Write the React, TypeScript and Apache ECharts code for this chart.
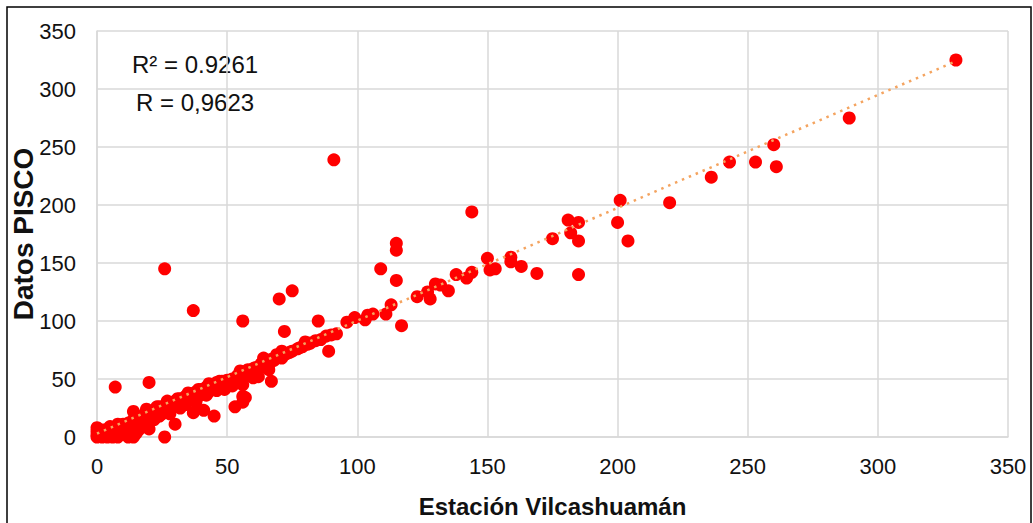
import React, { useEffect, useRef } from "react";
import * as echarts from "echarts";

// Estación Vilcashuamán (x) vs Datos PISCO (y)
const stationX: number[] = [
  0, 0, 0, 0, 1, 1, 2, 2, 3, 3, 4, 4, 5, 5, 6, 6, 7, 7, 8, 8, 9, 9, 10, 10, 11, 12, 12, 13, 14, 14, 14, 15, 16, 16, 17, 18, 18, 19, 20, 20,
  21, 22, 23, 24, 25, 26, 26, 27, 28, 29, 30, 30, 31, 32, 33, 34, 35, 36, 37, 37, 38, 39, 40, 41, 41, 42, 43, 44, 45, 45,
  46, 47, 48, 49, 50, 51, 52, 53, 53, 54, 55, 56, 56, 56, 56, 57, 58, 59, 60, 60, 61, 62, 63, 64, 65, 66, 67, 67, 68, 70,
  71, 72, 73, 74, 75, 77, 79, 81, 82, 84, 86, 88, 89, 90, 92,
  3, 5, 8, 11, 13, 15, 17, 19, 22, 23, 24, 27, 28, 31, 32, 34, 35, 38, 39, 42, 43, 46, 47, 49, 50, 52, 54, 55, 58, 62, 64, 66, 69, 71, 78, 80,
  96, 99, 103, 104, 106, 111, 113, 117, 123, 127, 128, 130, 132, 135, 138, 142, 144, 150, 151, 153, 159, 159, 163, 169, 175,
  181, 185, 182, 185, 185, 200, 201, 204, 220, 236, 243, 253, 260, 261, 289, 330,
  7, 20, 26, 37, 56, 70, 75, 72, 85, 91, 109, 115, 115, 115, 144, 57,
];
const piscoY: number[] = [
  0, 2, 5, 8, 1, 4, 0, 6, 2, 4, 0, 5, 2, 7, 0, 4, 3, 8, 0, 5, 2, 9, 4, 11, 6, 0, 12, 8, 0, 15, 22, 10, 17, 6, 14, 19, 12, 9, 7, 21,
  16, 23, 19, 26, 20, 0, 27, 22, 29, 25, 11, 31, 27, 33, 29, 35, 31, 37, 21, 33, 39, 35, 41, 23, 37, 43, 39, 45, 18, 41,
  47, 43, 48, 45, 49, 46, 50, 26, 48, 53, 50, 30, 35, 45, 55, 52, 58, 57, 51, 59, 60, 52, 63, 61, 65, 62, 48, 67, 66, 69,
  68, 71, 72, 73, 74, 76, 78, 80, 81, 83, 84, 87, 74, 88, 89,
  6, 9, 11, 2, 4, 3, 9, 24, 15, 26, 18, 31, 20, 33, 25, 28, 38, 30, 41, 36, 46, 40, 48, 41, 46, 44, 47, 57, 54, 59, 68, 58, 71, 74, 77, 82,
  99, 103, 101, 105, 106, 106, 114, 96, 121, 125, 119, 132, 131, 126, 140, 137, 142, 154, 144, 145, 155, 151, 147, 141, 171,
  187, 185, 176, 169, 140, 185, 204, 169, 202, 224, 237, 237, 252, 233, 275, 325,
  43, 47, 145, 109, 100, 119, 126, 91, 100, 239, 145, 167, 161, 135, 194, 34,
];
const trendX: number[] = [0, 330];
const trendY: number[] = [3, 324];
const tickValues: number[] = [0, 50, 100, 150, 200, 250, 300, 350];
const statsLines: string[] = ["R² = 0.9261", "R = 0,9623"];

const FONT = "'Liberation Sans', Arial, sans-serif";

export default function App() {
  const ref = useRef<HTMLDivElement>(null);
  useEffect(() => {
    document.body.style.margin = "0";
    if (!ref.current) return;
    const chart = echarts.init(ref.current, undefined, { renderer: "svg" });
    const points = stationX.map((x, i) => [x, piscoY[i]]);
    const trend = trendX.map((x, i) => [x, trendY[i]]);
    const axisCommon = {
      min: tickValues[0],
      max: tickValues[tickValues.length - 1],
      interval: 50,
      axisLine: { show: true, lineStyle: { color: "#d9d9d9", width: 1.5 } },
      axisTick: { show: false },
      splitLine: { show: true, lineStyle: { color: "#d9d9d9", width: 1.5 } },
      axisLabel: { color: "#111", fontSize: 22, fontFamily: FONT },
      nameMoveOverlap: false,
    };
    chart.setOption({
      animation: false,
      backgroundColor: "#ffffff",
      grid: { left: 97, right: 25, top: 31, bottom: 86, containLabel: false, outerBoundsMode: "none" },
      xAxis: {
        type: "value",
        ...axisCommon,
        name: "Estación Vilcashuamán",
        nameLocation: "middle",
        nameGap: 57,
        nameTextStyle: { color: "#111", fontSize: 24, fontWeight: "bold", fontFamily: FONT },
        axisLabel: { ...axisCommon.axisLabel, margin: 18 },
      },
      yAxis: {
        type: "value",
        ...axisCommon,
        name: "Datos PISCO",
        nameLocation: "middle",
        nameGap: 60,
        nameTextStyle: { color: "#111", fontSize: 28, fontWeight: "bold", fontFamily: FONT },
        axisLabel: { ...axisCommon.axisLabel, margin: 21 },
      },
      graphic: [
        {
          type: "rect",
          shape: { x: 7, y: 7, width: 1024, height: 540 },
          style: { fill: "none", stroke: "#000", lineWidth: 1.5 },
          silent: true,
        },
        {
          type: "text",
          left: 132,
          top: 52,
          style: { text: statsLines[0], fontSize: 24, fontFamily: FONT, fill: "#111" },
        },
        {
          type: "text",
          left: 136,
          top: 90,
          style: { text: statsLines[1], fontSize: 24, fontFamily: FONT, fill: "#111" },
        },
      ],
      series: [
        {
          type: "scatter",
          data: points,
          symbolSize: 13,
          itemStyle: { color: "#ff0000", opacity: 1 },
          z: 2,
        },
        {
          type: "line",
          data: trend,
          showSymbol: false,
          symbol: "none",
          lineStyle: { color: "#f4a460", width: 2.5, type: [2.5, 5] },
          z: 3,
        },
      ],
    });
    return () => chart.dispose();
  }, []);
  return <div ref={ref} style={{ width: 1033, height: 523 }} />;
}
